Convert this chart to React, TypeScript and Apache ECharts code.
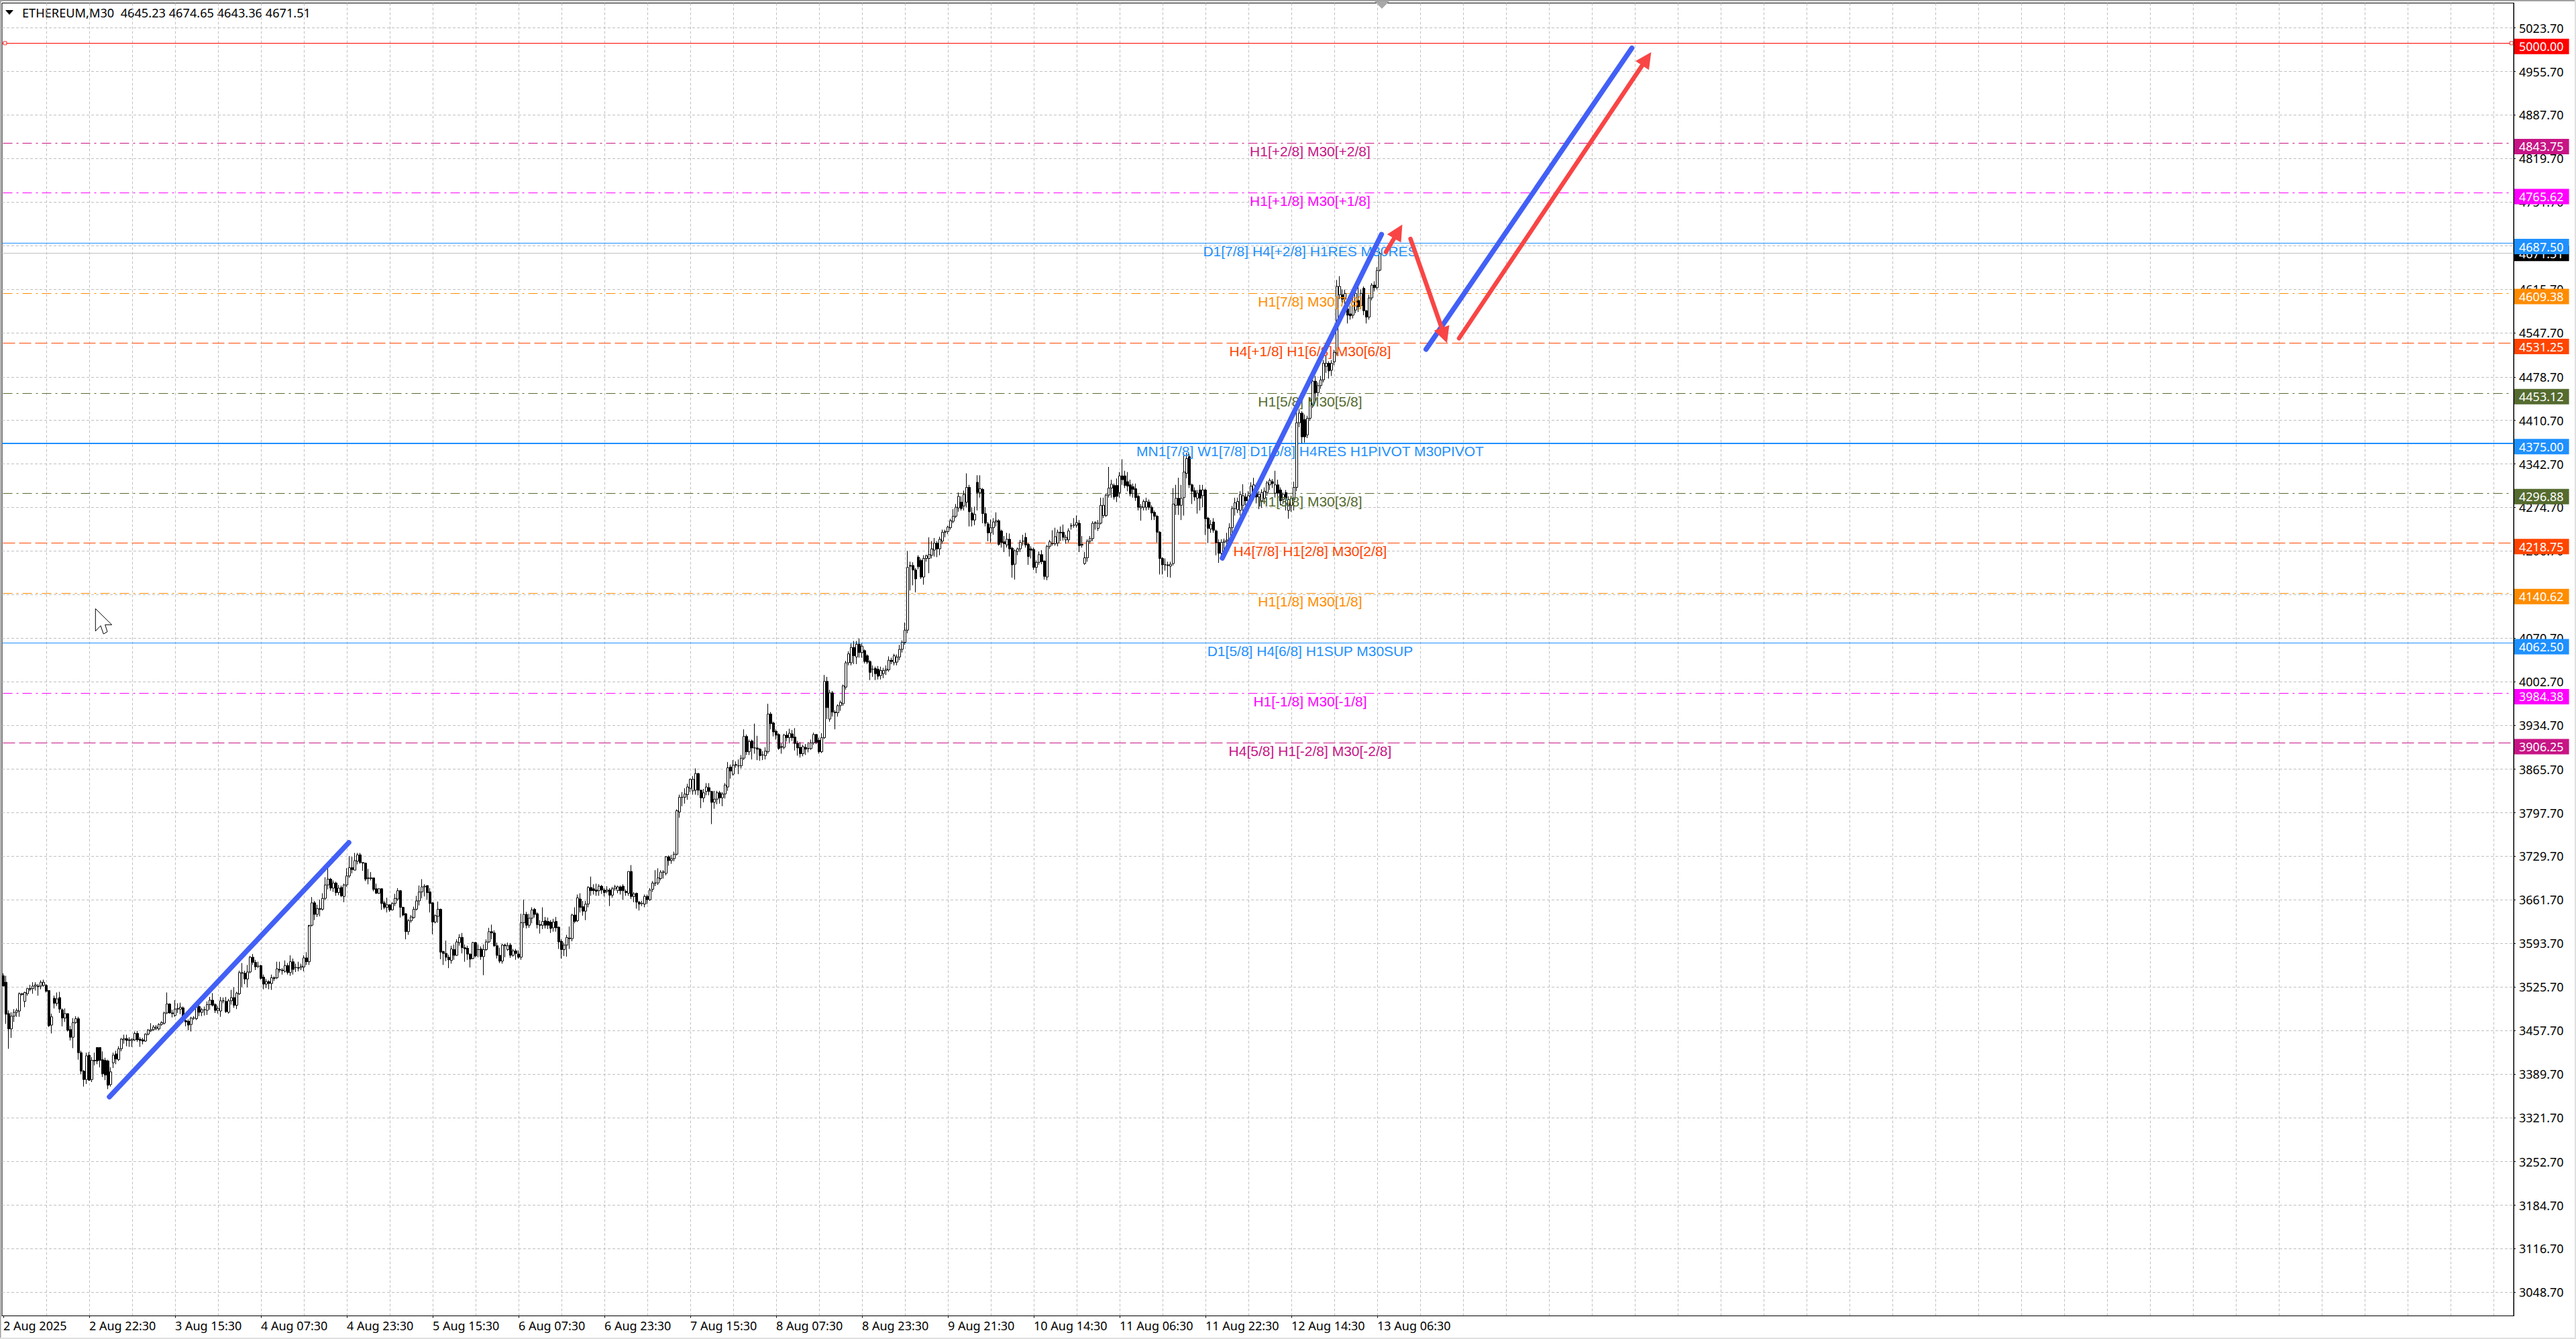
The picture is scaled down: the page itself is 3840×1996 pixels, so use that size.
import React, { useEffect, useRef } from "react";
import * as echarts from "echarts";

const symbolTitle = "ETHEREUM,M30  4645.23 4674.65 4643.36 4671.51";

// [open, close, low, high] in price
const candlesA = [
[3543,3527,3527,3547],[3533,3483,3468,3543],[3484,3460,3429,3489],[3460,3480,3446,3486],[3480,3486,3471,3491],[3486,3489,3479,3492],[3488,3515,3479,3517],[3515,3514,3512,3516],[3503,3517,3494,3518],[3515,3523,3512,3524],
[3523,3522,3519,3529],[3523,3527,3515,3533],[3527,3529,3520,3533],[3527,3526,3512,3530],[3527,3533,3522,3536],[3528,3533,3526,3537],[3528,3519,3517,3530],[3520,3465,3463,3520],[3466,3479,3453,3484],[3508,3500,3492,3512],
[3500,3507,3496,3517],[3509,3491,3485,3518],[3490,3477,3464,3492],[3477,3484,3471,3492],[3484,3458,3456,3484],[3459,3447,3442,3465],[3447,3470,3430,3477],[3470,3476,3468,3480],[3476,3423,3412,3479],[3423,3394,3389,3426],
[3394,3381,3370,3396],[3381,3418,3374,3423],[3419,3380,3379,3424],[3381,3411,3377,3416],[3411,3410,3403,3423],[3431,3410,3405,3431],[3431,3411,3400,3431],[3412,3390,3385,3425],[3411,3388,3380,3415],[3410,3372,3366,3412],
[3373,3393,3370,3400],[3407,3419,3399,3423],[3421,3413,3405,3426],[3412,3429,3410,3433],[3429,3444,3425,3446],[3443,3445,3437,3451],[3445,3442,3433,3451],[3443,3442,3432,3447],[3442,3444,3432,3445],[3443,3453,3441,3456],
[3453,3443,3440,3457],[3444,3442,3432,3447],[3443,3441,3436,3446],[3441,3452,3440,3453],[3452,3458,3450,3460],[3457,3459,3455,3469],[3459,3463,3457,3466],[3461,3463,3458,3466],[3460,3467,3458,3469],[3467,3470,3465,3472],
[3469,3485,3467,3487],[3485,3499,3483,3517],[3499,3485,3484,3500],[3485,3484,3478,3490],[3481,3491,3479,3505],[3491,3492,3485,3500],[3491,3494,3483,3501],[3493,3473,3470,3495],[3473,3471,3464,3475],[3472,3466,3458,3475],
[3467,3477,3456,3479],[3477,3477,3474,3480],[3476,3494,3474,3498],[3495,3486,3480,3500],[3486,3490,3480,3493],[3490,3490,3481,3495],[3489,3498,3482,3503],[3498,3505,3490,3510],[3505,3497,3495,3516],[3498,3489,3485,3500],
[3489,3492,3484,3496],[3488,3504,3479,3510],[3504,3504,3500,3509],[3503,3487,3485,3510],[3486,3504,3484,3507],[3504,3509,3498,3521],[3509,3497,3493,3525],[3497,3516,3491,3518],[3515,3548,3513,3551],[3547,3548,3525,3563],
[3547,3538,3530,3551],[3538,3549,3525,3560],[3549,3572,3547,3574],[3572,3564,3560,3577],[3564,3557,3552,3568],[3558,3558,3555,3565],[3559,3539,3537,3560],[3541,3530,3522,3545],[3530,3534,3524,3538],[3534,3531,3522,3536],
[3531,3540,3521,3545],[3540,3539,3535,3542],[3540,3554,3538,3565],[3553,3552,3548,3565],[3552,3551,3545,3555],[3550,3559,3548,3567],[3559,3548,3545,3563],[3548,3565,3543,3575],[3565,3553,3545,3570],[3556,3556,3549,3562],
[3556,3555,3550,3565],[3556,3558,3552,3562],[3557,3571,3550,3575],[3571,3565,3560,3580],
];
const candlesB = [
[3565,3622,3560,3620],[3622,3657,3620,3666],[3657,3639,3630,3660],[3639,3648,3635,3654],[3648,3647,3636,3662],[3647,3664,3645,3672],[3664,3685,3661,3697],[3685,3694,3678,3712],[3694,3680,3676,3696],[3680,3688,3674,3692],
[3688,3673,3668,3690],[3673,3680,3669,3685],[3681,3668,3666,3684],[3667,3685,3658,3687],[3685,3699,3682,3711],[3699,3712,3696,3730],[3712,3709,3703,3729],[3708,3723,3708,3735],[3722,3732,3717,3735],[3732,3720,3718,3735],
[3720,3719,3707,3720],[3719,3694,3691,3720],[3695,3696,3686,3710],[3696,3695,3692,3705],[3696,3678,3675,3696],[3679,3672,3671,3687],[3672,3679,3671,3680],[3679,3656,3646,3680],[3657,3650,3647,3660],[3650,3654,3642,3665],
[3654,3646,3643,3655],[3646,3656,3645,3658],[3656,3664,3652,3671],[3663,3676,3660,3680],[3676,3650,3634,3677],[3650,3638,3636,3651],[3640,3612,3600,3641],[3612,3629,3607,3632],[3629,3635,3626,3638],[3634,3647,3632,3651],
[3647,3660,3645,3668],[3660,3674,3653,3684],[3674,3682,3664,3694],[3682,3683,3667,3686],[3684,3673,3662,3684],[3674,3656,3642,3680],[3657,3627,3608,3658],[3627,3637,3625,3639],[3636,3647,3626,3659],[3647,3580,3569,3648],
[3581,3578,3560,3582],[3578,3572,3566,3598],[3572,3568,3555,3576],[3567,3585,3562,3590],[3584,3575,3568,3592],[3575,3596,3574,3600],[3595,3603,3590,3608],[3603,3587,3578,3610],[3587,3585,3565,3592],[3586,3577,3568,3590],
[3577,3569,3556,3578],[3570,3595,3569,3596],[3595,3574,3572,3596],[3584,3584,3572,3592],[3585,3573,3568,3589],[3573,3584,3544,3592],[3584,3596,3582,3600],[3596,3612,3594,3618],[3612,3610,3600,3623],[3610,3590,3588,3614],
[3590,3575,3570,3595],[3575,3566,3563,3587],[3566,3591,3562,3593],[3591,3590,3572,3593],[3584,3590,3582,3595],[3591,3575,3571,3594],[3575,3582,3573,3585],[3582,3578,3568,3585],[3577,3572,3570,3583],
[3572,3626,3568,3640],[3626,3639,3618,3662],[3639,3622,3617,3643],[3622,3633,3618,3640],[3633,3646,3625,3650],[3647,3639,3634,3649],[3640,3623,3617,3642],[3623,3622,3609,3630],[3622,3628,3616,3650],[3629,3622,3617,3635],
[3628,3622,3616,3634],[3627,3617,3610,3630],[3618,3627,3612,3632],[3628,3618,3612,3635],[3619,3596,3585,3620],[3597,3584,3570,3600],[3584,3591,3574,3595],[3591,3603,3573,3607],[3602,3601,3585,3620],[3601,3638,3597,3640],
[3638,3628,3625,3650],[3629,3665,3627,3670],[3663,3650,3642,3672],[3651,3644,3637,3660],[3644,3655,3630,3660],[3655,3681,3650,3683],[3681,3676,3668,3698],[3679,3676,3670,3686],[3677,3675,3668,3687],[3676,3683,3668,3686],
[3683,3677,3671,3685],[3677,3673,3667,3680],[3675,3677,3672,3683],[3677,3669,3652,3680],[3669,3679,3665,3682],[3679,3682,3676,3685],[3676,3682,3672,3684],[3682,3676,3670,3684],[3683,3676,3662,3686],[3675,3673,3668,3678],
[3672,3706,3668,3706],[3706,3667,3663,3716],[3667,3671,3658,3674],[3672,3658,3648,3673],[3658,3655,3645,3660],[3656,3656,3652,3660],[3655,3667,3650,3670],[3667,3662,3655,3670],[3662,3677,3660,3680],[3678,3688,3674,3691],
[3688,3688,3683,3708],[3688,3696,3685,3711],[3695,3705,3692,3708],[3705,3705,3695,3708],[3703,3729,3700,3730],[3729,3723,3715,3731],[3723,3726,3718,3732],[3726,3733,3722,3737],[3733,3801,3731,3803],
];
const candlesC = [
[3799,3822,3790,3826],[3822,3822,3808,3830],[3822,3827,3812,3836],[3826,3838,3818,3843],[3836,3850,3830,3851],[3832,3850,3826,3855],[3833,3859,3826,3867],[3859,3833,3825,3860],[3833,3821,3805,3834],[3821,3829,3814,3835],
[3831,3838,3825,3844],[3837,3831,3825,3844],[3831,3814,3780,3832],[3814,3819,3804,3832],[3819,3829,3811,3832],[3829,3821,3812,3832],[3821,3827,3808,3830],[3827,3841,3820,3844],[3838,3868,3832,3877],[3869,3863,3851,3873],
[3858,3872,3856,3880],[3873,3872,3868,3878],[3871,3871,3858,3881],[3871,3883,3867,3888],[3883,3917,3880,3928],[3917,3893,3888,3920],[3893,3909,3888,3912],[3910,3899,3881,3912],[3899,3899,3890,3937],[3899,3897,3880,3918],
[3897,3887,3879,3899],[3888,3888,3880,3894],[3887,3894,3881,3900],[3893,3952,3890,3968],[3952,3937,3928,3955],[3938,3924,3917,3940],[3925,3919,3912,3928],[3920,3898,3896,3922],[3901,3900,3890,3906],[3900,3919,3897,3921],
[3919,3915,3909,3925],[3915,3922,3906,3929],[3921,3915,3910,3927],[3916,3906,3895,3930],[3906,3899,3887,3910],[3900,3890,3884,3908],[3890,3901,3886,3904],[3900,3897,3888,3905],[3898,3898,3892,3908],[3898,3907,3896,3912],
[3907,3920,3904,3923],[3920,3908,3905,3921],[3911,3893,3890,3915],[3893,3915,3891,3922],[3915,4003,3913,4013],[4003,3962,3944,4010],[3944,3985,3940,3990],[3985,3955,3948,3988],[3955,3954,3928,3958],[3954,3965,3948,3967],
[3965,3970,3957,3973],[3968,3996,3965,3998],[3994,4032,3990,4035],[4032,4046,4028,4050],[4032,4056,4028,4062],[4056,4043,4030,4066],[4041,4061,4030,4066],[4061,4048,4040,4070],[4048,4058,4040,4062],[4051,4034,4031,4053],
[4043,4033,4030,4045],[4034,4017,4005,4036],[4022,4022,4010,4028],[4023,4015,4005,4026],[4022,4011,4006,4027],[4012,4020,4006,4026],[4015,4020,4008,4024],[4020,4022,4013,4028],[4021,4036,4018,4042],[4036,4034,4030,4040],
[4032,4043,4028,4046],[4033,4041,4028,4045],[4041,4053,4036,4060],[4053,4064,4048,4067],[4064,4083,4060,4095],[4083,4181,4078,4207],[4184,4183,4145,4190],[4184,4177,4153,4189],[4177,4163,4142,4180],[4197,4182,4178,4200],
[4192,4166,4163,4195],[4166,4195,4154,4200],[4195,4199,4190,4201],[4195,4201,4172,4228],[4200,4210,4195,4222],[4208,4219,4198,4227],[4219,4210,4197,4222],[4210,4225,4200,4229],[4222,4236,4218,4240],[4236,4237,4228,4240],
[4237,4244,4233,4246],[4243,4254,4240,4257],[4253,4261,4250,4272],[4261,4275,4258,4280],[4274,4292,4268,4298],[4283,4273,4270,4292],[4277,4295,4270,4301],[4283,4306,4275,4328],[4306,4268,4245,4310],[4266,4255,4245,4275],
[4255,4264,4247,4276],[4314,4298,4270,4325],[4298,4304,4290,4325],[4303,4265,4250,4305],[4265,4250,4245,4275],[4249,4235,4222,4252],[4235,4243,4220,4256],[4243,4252,4232,4258],[4252,4254,4245,4267],[4254,4217,4215,4256],
[4238,4220,4212,4240],[4221,4218,4205,4230],[4216,4225,4212,4235],[4225,4210,4198,4234],[4211,4185,4165,4213],[4186,4207,4162,4209],[4206,4210,4200,4212],[4210,4220,4205,4224],[4222,4222,4215,4232],[4228,4216,4212,4235],
[4217,4198,4185,4219],[4210,4208,4195,4214],[4209,4181,4177,4212],[4181,4189,4172,4192],[4189,4201,4185,4206],[4201,4190,4186,4208],[4191,4167,4162,4192],[4166,4214,4161,4216],[4214,4221,4210,4224],[4218,4218,4215,4239],
];
const candlesD = [
[4218,4229,4215,4243],[4219,4236,4214,4240],[4236,4235,4222,4245],[4236,4228,4223,4248],[4224,4228,4218,4232],[4224,4238,4220,4242],[4246,4246,4240,4250],[4247,4247,4243,4258],[4247,4251,4243,4262],[4250,4215,4205,4255],
[4217,4216,4212,4230],[4187,4196,4185,4205],[4196,4222,4190,4225],[4222,4226,4218,4230],[4226,4250,4222,4253],[4250,4251,4240,4253],[4242,4250,4238,4255],[4250,4278,4248,4290],[4262,4278,4258,4290],[4262,4294,4260,4296],
[4294,4305,4290,4338],[4305,4311,4290,4318],[4309,4291,4287,4312],[4309,4292,4283,4320],[4298,4324,4290,4330],[4324,4318,4310,4350],[4324,4309,4305,4332],[4315,4308,4300,4330],[4310,4296,4292,4318],[4307,4303,4290,4312],
[4304,4290,4285,4312],[4292,4275,4270,4295],[4274,4276,4254,4280],[4275,4284,4270,4287],[4275,4284,4270,4290],[4283,4275,4271,4287],[4275,4266,4255,4278],[4267,4261,4255,4270],[4261,4236,4220,4263],[4236,4195,4170,4238],
[4195,4185,4170,4197],[4185,4185,4176,4195],[4185,4184,4166,4190],[4183,4186,4165,4190],[4187,4280,4184,4305],[4278,4289,4263,4310],[4289,4278,4263,4321],[4278,4289,4255,4310],[4290,4330,4262,4358],[4328,4351,4320,4360],
[4354,4310,4305,4358],[4310,4300,4280,4312],[4301,4291,4285,4306],[4289,4297,4265,4302],[4302,4289,4270,4310],[4293,4302,4275,4310],[4302,4257,4232,4304],[4258,4242,4219,4260],[4241,4248,4235,4255],[4252,4239,4235,4258],
[4238,4220,4200,4240],[4220,4203,4188,4225],[4203,4220,4195,4225],[4220,4222,4200,4226],[4222,4224,4215,4235],[4224,4243,4218,4250],[4243,4273,4235,4277],[4273,4282,4262,4290],[4271,4284,4266,4290],[4270,4295,4262,4300],
[4278,4293,4268,4311],[4291,4285,4278,4297],[4285,4293,4276,4300],[4285,4308,4280,4314],[4293,4310,4286,4321],[4308,4291,4281,4312],[4291,4295,4272,4300],[4285,4298,4274,4303],[4289,4300,4280,4306],[4298,4313,4293,4316],
[4310,4317,4302,4320],[4315,4312,4305,4319],[4297,4310,4290,4332],[4310,4297,4292,4318],[4302,4285,4278,4306],[4287,4295,4280,4298],[4298,4289,4270,4302],[4270,4287,4257,4292],[4278,4289,4268,4293],[4287,4306,4270,4315],
[4306,4407,4300,4428],[4407,4422,4400,4428],[4422,4385,4375,4425],[4412,4385,4376,4420],[4388,4414,4383,4418],[4414,4441,4410,4445],[4435,4472,4430,4485],[4472,4454,4440,4480],[4454,4465,4448,4470],[4465,4474,4460,4480],
[4474,4500,4470,4505],[4495,4500,4485,4512],[4500,4488,4476,4503],[4489,4500,4480,4505],[4502,4517,4497,4521],[4516,4620,4512,4630],[4607,4620,4600,4636],[4607,4600,4595,4615],[4600,4609,4592,4615],[4585,4575,4562,4595],
[4577,4574,4568,4590],[4575,4596,4570,4606],[4583,4609,4578,4615],[4598,4588,4580,4630],[4590,4609,4585,4615],[4617,4582,4575,4620],[4582,4572,4562,4583],[4572,4602,4568,4607],[4602,4622,4598,4625],[4622,4618,4612,4628],
[4618,4645,4615,4650],[4645.23,4671.51,4643.36,4674.65],
];
const candles = [...candlesA, ...candlesB, ...candlesC, ...candlesD];

const timeLabels = ["2 Aug 2025","2 Aug 22:30","3 Aug 15:30","4 Aug 07:30","4 Aug 23:30","5 Aug 15:30","6 Aug 07:30","6 Aug 23:30","7 Aug 15:30","8 Aug 07:30","8 Aug 23:30","9 Aug 21:30","10 Aug 14:30","11 Aug 06:30","11 Aug 22:30","12 Aug 14:30","13 Aug 06:30"];
const priceTicks = [5023.7,4955.7,4887.7,4819.7,4751.7,4683.7,4615.7,4547.7,4478.7,4410.7,4342.7,4274.7,4206.7,4138.7,4070.7,4002.7,3934.7,3865.7,3797.7,3729.7,3661.7,3593.7,3525.7,3457.7,3389.7,3321.7,3252.7,3184.7,3116.7,3048.7];

const levelPrices = [5000,4843.75,4765.62,4687.5,4609.38,4531.25,4453.12,4375,4296.88,4218.75,4140.62,4062.5,3984.38,3906.25];
const levelColors = ["#FF0000","#C71585","#FF00FF","#1E90FF","#FF8C00","#FF4500","#556B2F","#1E90FF","#556B2F","#FF4500","#FF8C00","#1E90FF","#FF00FF","#C71585"];
const levelStyles: any[] = ["solid","dd","dd","solid","dd","dash","dd","solid2","dd","dash","dd","solid","dd","dash"];
const levelTexts = ["","H1[+2/8] M30[+2/8]","H1[+1/8] M30[+1/8]","D1[7/8] H4[+2/8] H1RES M30RES","H1[7/8] M30[7/8]","H4[+1/8] H1[6/8] M30[6/8]","H1[5/8] M30[5/8]","MN1[7/8] W1[7/8] D1[6/8] H4RES H1PIVOT M30PIVOT","H1[3/8] M30[3/8]","H4[7/8] H1[2/8] M30[2/8]","H1[1/8] M30[1/8]","D1[5/8] H4[6/8] H1SUP M30SUP","H1[-1/8] M30[-1/8]","H4[5/8] H1[-2/8] M30[-2/8]"];
const currentPrice = 4671.51;
const levelTextBar = 487;
const anchorBars = [0.6, 934.7];

// [bar1, price1, bar2, price2, hasHead]
const blueTrends = [[39.5,3353.9,128.75,3751.1,0],[454.25,4195.5,513.6,4701.3,0],[530.2,4521.7,606.9,4992.3,0]];
const redArrows = [[515.25,4673.7,521.35,4716.7,1],[524.4,4694.3,538,4531.5,1],[542.5,4538.9,614.1,4986,1]];

const BAR_SLOTS = 936;
const labelStep = 32;
const gridStep = 16;
const categories = Array.from({ length: BAR_SLOTS }, (_, i) => (i % labelStep === 0 && timeLabels[i / labelStep]) || String(i));

const dashOf = (s: string) => (s === "dd" ? [14, 6, 3, 6] : s === "dash" ? [18, 6] : null);

function trendItem(color: string, width: number) {
  return (params: any, api: any) => {
    const a = api.coord([api.value(0), api.value(1)]);
    const b = api.coord([api.value(2), api.value(3)]);
    const head = api.value(4) === 1;
    const children: any[] = [];
    const dx = b[0] - a[0], dy = b[1] - a[1];
    const len = Math.hypot(dx, dy) || 1;
    const ux = dx / len, uy = dy / len;
    const headLen = 24, headHalf = 12;
    const end = head ? [b[0] - ux * (headLen - 2), b[1] - uy * (headLen - 2)] : b;
    children.push({ type: "line", shape: { x1: a[0], y1: a[1], x2: end[0], y2: end[1] }, style: { stroke: color, lineWidth: width, lineCap: "round" } });
    if (head) {
      const bx = b[0] - ux * headLen, by = b[1] - uy * headLen;
      children.push({ type: "polygon", shape: { points: [[b[0], b[1]], [bx - uy * headHalf, by + ux * headHalf], [bx + uy * headHalf, by - ux * headHalf]] }, style: { fill: color } });
    }
    return { type: "group", children };
  };
}

export default function App() {
  const ref = useRef<HTMLDivElement>(null);
  useEffect(() => {
    document.body.style.margin = "0";
    document.body.style.overflow = "hidden";
    const chart = echarts.init(ref.current!, null, { renderer: "svg" });
    const tagFont = { fontFamily: "Noto Sans", fontSize: 18 };
    const hiddenLine = { color: "rgba(0,0,0,0)", width: 1 };
    const mark: any[] = [
      {
        yAxis: currentPrice,
        lineStyle: hiddenLine,
        label: { show: true, position: "end", distance: 1, formatter: currentPrice.toFixed(2), color: "#fff", backgroundColor: "#000", padding: [3, 8, 2, 7], ...tagFont },
      },
      ...levelPrices.map((p, i) => ({
        yAxis: p,
        lineStyle: hiddenLine,
        label: { show: true, position: "end", distance: 1, offset: [0, 5], formatter: p.toFixed(2), color: "#fff", backgroundColor: levelColors[i], padding: [3, 8, 2, 7], ...tagFont },
      })),
    ];
    chart.setOption({
      animation: false,
      backgroundColor: "#fff",
      grid: { left: 3, top: 4.5, width: 3744, height: 1957, show: true, borderColor: "#000", borderWidth: 1, backgroundColor: "transparent" },
      xAxis: [
        {
          type: "category",
          data: categories,
          boundaryGap: true,
          axisLine: { show: true, onZero: false, lineStyle: { color: "#000", width: 1 } },
          axisTick: { show: true, length: 3, alignWithLabel: true, lineStyle: { color: "#000" }, interval: (i: number) => i % labelStep === 0 && i <= labelStep * (timeLabels.length - 1) },
          axisLabel: { show: true, color: "#000", fontFamily: "Noto Sans", fontSize: 18, align: "left", margin: 5, interval: (i: number) => i % labelStep === 0 && i <= labelStep * (timeLabels.length - 1), hideOverlap: false },
          splitLine: { show: true, alignWithLabel: true, interval: (i: number) => i % gridStep === 0 && i > 0, lineStyle: { color: "#C0C0C0", width: 1, type: [4, 3] } },
        },
        { type: "value", show: false, min: -0.5, max: BAR_SLOTS - 0.5, splitLine: { show: false } },
      ],
      yAxis: {
        type: "value",
        position: "right",
        min: 3011.81,
        max: 5062.68,
        axisLine: { show: true, onZero: false, lineStyle: { color: "#000", width: 1 } },
        axisTick: { show: true, length: 3, customValues: priceTicks, lineStyle: { color: "#000" } },
        axisLabel: { show: true, customValues: priceTicks, color: "#000", fontFamily: "Noto Sans", fontSize: 18, margin: 8, formatter: (v: number) => v.toFixed(2), showMinLabel: true, showMaxLabel: true },
        splitLine: { show: true, lineStyle: { color: "#C0C0C0", width: 1, type: [4, 3] } },
      },
      series: [
        {
          type: "candlestick",
          data: candles,
          xAxisIndex: 0,
          barWidth: 3,
          z: 2,
          itemStyle: { color: "#fff", color0: "#000", borderColor: "#000", borderColor0: "#000", borderWidth: 1 },
          markLine: { silent: true, symbol: "none", animation: false, data: mark },
        },
        {
          // level lines, snapped to whole pixels so that they stay crisp
          type: "custom",
          xAxisIndex: 1,
          z: 2,
          clip: false,
          encode: { x: 0, y: 1 },
          data: [[0, currentPrice, -1], ...levelPrices.map((p, i) => [0, p, i])],
          renderItem: (params: any, api: any) => {
            const c = api.coord([api.value(0), api.value(1)]);
            const i = api.value(2);
            const left = params.coordSys.x;
            const right = left + params.coordSys.width;
            const style = i < 0 ? "solid" : levelStyles[i];
            const width = style === "solid2" ? 2 : 1;
            const y = width === 2 ? Math.round(c[1]) : Math.round(c[1] - 0.5) + 0.5;
            const dash = dashOf(style);
            return {
              type: "line",
              shape: { x1: dash ? left + 1.5 : left, y1: y, x2: dash ? right - 3 : right, y2: y },
              style: { stroke: i < 0 ? "#C0C0C0" : levelColors[i], lineWidth: width, lineDash: dash || undefined },
            };
          },
        },
        {
          type: "scatter",
          xAxisIndex: 1,
          z: 3,
          symbol: "rect",
          symbolSize: 5,
          itemStyle: { color: "#fff", borderColor: "#FF0000", borderWidth: 1 },
          data: anchorBars.map((b) => [b, levelPrices[0]]),
        },
        {
          type: "custom",
          xAxisIndex: 1,
          z: 4,
          clip: false,
          encode: { x: 0, y: 1 },
          data: levelPrices.map((p, i) => [levelTextBar, p, i]).filter((d) => levelTexts[d[2]]),
          renderItem: (params: any, api: any) => {
            const c = api.coord([api.value(0), api.value(1)]);
            const i = api.value(2);
            return { type: "text", style: { text: levelTexts[i], x: c[0], y: c[1] + 12, fill: levelColors[i], align: "center", verticalAlign: "middle", fontFamily: "Liberation Sans", fontSize: 21 } };
          },
        },
        { type: "custom", xAxisIndex: 1, z: 5, clip: false, encode: { x: [0, 2], y: [1, 3] }, data: blueTrends, renderItem: trendItem("#4260F6", 7.5) },
        { type: "custom", xAxisIndex: 1, z: 6, clip: false, encode: { x: [0, 2], y: [1, 3] }, data: redArrows, renderItem: trendItem("#F94545", 6.5) },
      ],
      graphic: [
        { type: "rect", shape: { x: 0, y: 0, width: 3840, height: 2 }, style: { fill: "#A0A0A0" }, silent: true },
        { type: "rect", shape: { x: 0, y: 0, width: 1.5, height: 1996 }, style: { fill: "#A0A0A0" }, silent: true },
        { type: "rect", shape: { x: 3838, y: 0, width: 2, height: 1996 }, style: { fill: "#E0E0E0" }, silent: true },
        { type: "rect", shape: { x: 0, y: 1994, width: 3840, height: 2 }, style: { fill: "#E0E0E0" }, silent: true },
        { type: "polygon", shape: { points: [[8, 15], [20, 15], [14, 22]] }, style: { fill: "#000" }, silent: true },
        { type: "polygon", shape: { points: [[2049, 2], [2071, 2], [2060, 13]] }, style: { fill: "#A8A8A8" }, silent: true },
        { type: "text", style: { text: symbolTitle, x: 33, y: 19, fill: "#000", fontFamily: "Noto Sans", fontSize: 18.2, verticalAlign: "middle" }, silent: true },
        { type: "polygon", shape: { points: [[142.3, 907.3], [166.7, 931.3], [156.7, 931.3], [160, 941.7], [154.3, 945], [150, 932.7], [142.3, 940.7]] }, style: { fill: "#fff", stroke: "#000", lineWidth: 1 }, silent: true },
      ],
    });
    return () => chart.dispose();
  }, []);
  return <div ref={ref} style={{ position: "fixed", left: 0, top: 0, width: 3840, height: 1996 }} />;
}
